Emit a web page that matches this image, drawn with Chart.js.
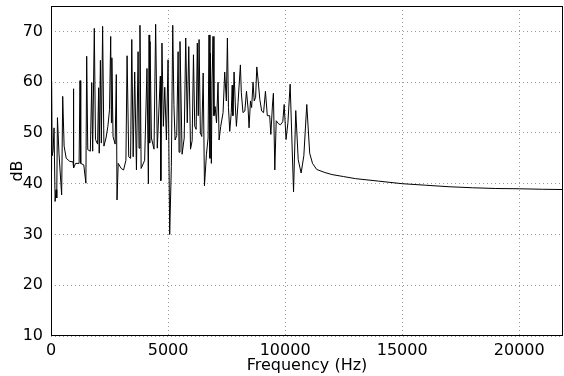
<!DOCTYPE html>
<html>
<head>
<meta charset="utf-8">
<script src="https://cdn.jsdelivr.net/npm/chart.js@4.4.1/dist/chart.umd.min.js"></script>
<style>
  html, body { margin: 0; padding: 0; background: #fff; }
  #wrap { width: 564px; height: 376px; }
</style>
</head>
<body>
<div id="wrap"><canvas id="chart" width="564" height="376"></canvas></div>
<script>
// frequency response
const freqs = [
    0, 25, 50, 90, 130, 175, 215, 245, 275, 340, 455, 500, 560, 650, 800, 940, 955, 975, 1050, 1200,
    1240, 1270, 1400, 1490, 1525, 1570, 1680, 1740, 1780, 1850, 1900, 1990, 2035, 2060, 2110, 2150, 2205, 2260, 2350, 2430,
    2500, 2550, 2580, 2600, 2650, 2740, 2790, 2820, 2870, 3000, 3100, 3200, 3250, 3320, 3400, 3450, 3510, 3575, 3650, 3720,
    3760, 3800, 3850, 4000, 4100, 4160, 4190, 4215, 4230, 4290, 4400, 4470, 4540, 4670, 4690, 4740, 4800, 4860, 4930, 5000,
    5070, 5140, 5200, 5250, 5300, 5370, 5430, 5470, 5510, 5600, 5690, 5755, 5820, 5885, 5960, 6030, 6085, 6140, 6200, 6250,
    6290, 6325, 6380, 6440, 6500, 6555, 6640, 6710, 6750, 6790, 6810, 6850, 6880, 6920, 6960, 7010, 7070, 7135, 7180, 7250,
    7350, 7420, 7490, 7535, 7580, 7635, 7700, 7740, 7770, 7820, 7880, 7920, 7990, 8090, 8130, 8200, 8280, 8350, 8420, 8460,
    8520, 8570, 8630, 8680, 8740, 8790, 8850, 8920, 9000, 9080, 9160, 9240, 9340, 9390, 9460, 9500, 9560, 9620, 9720, 9800,
    9900, 9960, 10040, 10120, 10215, 10360, 10455, 10560, 10685, 10800, 10925, 11050, 11170, 11350, 11700, 12000, 12500, 13000, 14000, 15000,
    16000, 17000, 18000, 19000, 20000, 21000, 21870
];
const levels = [
    42.5, 60.2, 45.5, 46.5, 51, 36.5, 38.8, 37.2, 53, 46, 37.8, 57.2, 47.4, 45, 44.4, 44.3, 58.7, 43.1, 44.0, 44.0,
    60.3, 44.0, 43.7, 40.1, 65.1, 46.7, 46.4, 59.9, 46.4, 70.6, 48.7, 47.8, 58.9, 46, 64.3, 48, 71, 47.4, 49, 51.3,
    54.6, 69, 52, 64.8, 49.3, 47.8, 61.5, 36.8, 44, 43, 42.7, 44.6, 65.2, 45.3, 45, 68.4, 45.3, 62, 42.7, 66,
    47, 71.2, 43, 44.6, 62.7, 40, 69.3, 48, 68, 49, 46.8, 71.4, 47, 61.2, 40.6, 67.7, 51.3, 59, 48.6, 64.4,
    30, 43.4, 71.2, 55.6, 48.6, 49.5, 66, 46.2, 68, 45.8, 49, 68.7, 52, 67, 46.8, 48.5, 65.4, 51.3, 50.7, 67.7,
    53.4, 68.4, 50, 49.3, 61.8, 39.6, 45.8, 49, 69.3, 45, 65.7, 44, 60, 69, 53.4, 55.2, 52, 60, 48.6, 51.3,
    54, 62, 56.3, 68.7, 55, 50.3, 54, 59.4, 53.4, 62, 54.7, 51.3, 56, 63.4, 57.9, 54, 54.3, 58.2, 54.7, 51,
    56.3, 55, 60, 56.3, 57, 63, 60.2, 56.6, 54.3, 54, 58.2, 53.4, 53.4, 49.7, 55.5, 57.8, 42.7, 52.4, 51.8, 51.6,
    52.2, 55.6, 48.7, 52, 59.6, 38.4, 54.4, 44.7, 42.1, 45.5, 55.6, 46, 44, 42.8, 42.2, 41.8, 41.4, 41, 40.5, 40,
    39.7, 39.4, 39.2, 39.05, 39.0, 38.9, 38.85
];
const xTicks = [0, 5000, 10000, 15000, 20000];
const yTicks = [10, 20, 30, 40, 50, 60, 70];

const points = freqs.map((f, i) => ({ x: f, y: levels[i] }));

// box round the plot, like matplotlib's frame
const frame = {
    id: "frame",
    afterDraw(chart) {
        const a = chart.chartArea;
        const ctx = chart.ctx;
        ctx.save();
        ctx.strokeStyle = "#000";
        ctx.lineWidth = 1;
        ctx.strokeRect(a.left + 0.5, a.top + 0.5, a.right - a.left - 1, a.bottom - a.top - 1);
        ctx.restore();
    }
};

const gridStyle = {
    color: "rgba(0,0,0,0.4)",
    lineWidth: 1,
    drawTicks: false
};

new Chart(document.getElementById("chart"), {
    type: "scatter",
    data: {
        datasets: [{
            data: points,
            showLine: true,
            borderColor: "#000",
            borderWidth: 1,
            pointRadius: 0,
            tension: 0
        }]
    },
    options: {
        responsive: false,
        animation: false,
        events: [],
        layout: { padding: { top: 6, right: 1, left: 0, bottom: 0 } },
        plugins: { legend: { display: false }, tooltip: { enabled: false } },
        scales: {
            x: {
                type: "linear",
                min: 0,
                max: 21870,
                afterFit(s) { s.height = 40; s.paddingLeft = 0; s.paddingRight = 0; },
                afterBuildTicks(s) { s.ticks = xTicks.map(v => ({ value: v })); },
                grid: gridStyle,
                border: { display: false, dash: [1, 3] },
                ticks: {
                    padding: 5,
                    color: "#000",
                    font: { family: "DejaVu Sans", size: 16 },
                    maxRotation: 0,
                    callback: v => String(v)
                },
                title: {
                    display: true,
                    text: "Frequency (Hz)",
                    color: "#000",
                    font: { family: "DejaVu Sans", size: 16 },
                    padding: { top: 0, bottom: 1 }
                }
            },
            y: {
                type: "linear",
                min: 10,
                max: 75,
                afterFit(s) { s.width = 51; s.paddingTop = 0; s.paddingBottom = 0; },
                afterBuildTicks(s) { s.ticks = yTicks.map(v => ({ value: v })); },
                grid: gridStyle,
                border: { display: false, dash: [1, 3] },
                ticks: {
                    padding: 8,
                    color: "#000",
                    font: { family: "DejaVu Sans", size: 16 },
                    callback: v => String(v)
                },
                title: {
                    display: true,
                    text: "dB",
                    color: "#000",
                    font: { family: "DejaVu Sans", size: 16 },
                    padding: { top: 8, bottom: 0 }
                }
            }
        }
    },
    plugins: [frame]
});
</script>
</body>
</html>
